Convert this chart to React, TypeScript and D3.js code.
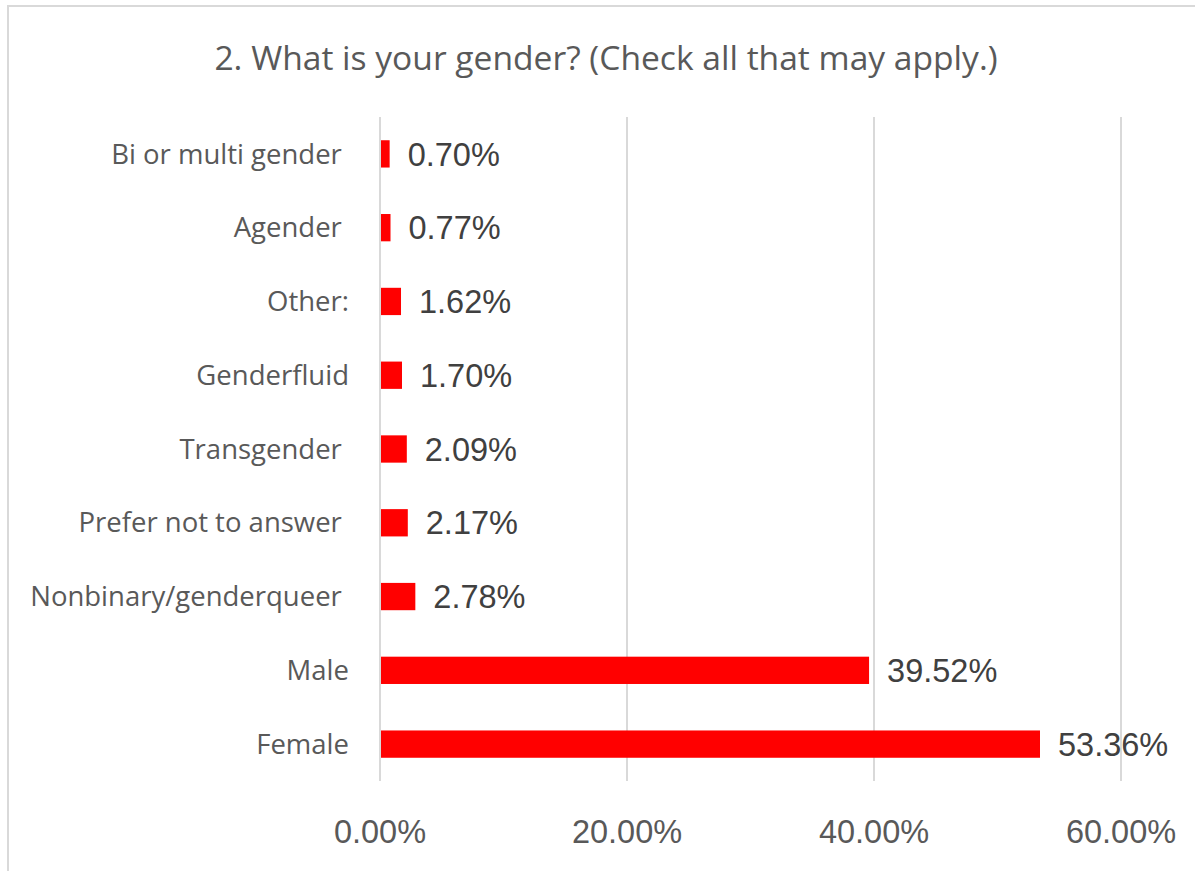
import React from "react";
import * as d3 from "d3";

const categories = [
  "Bi or multi gender ",
  "Agender ",
  "Other:",
  "Genderfluid",
  "Transgender ",
  "Prefer not to answer ",
  "Nonbinary/genderqueer ",
  "Male",
  "Female",
];
const values = [0.007, 0.0077, 0.0162, 0.017, 0.0209, 0.0217, 0.0278, 0.3952, 0.5336];
const tickValues = [0, 0.2, 0.4, 0.6];
const title = "2. What is your gender? (Check all that may apply.)";

export default function App() {
  const W = 1195;
  const H = 871;
  const x = d3.scaleLinear().domain([0, 0.6]).range([380, 1121]);
  const y = d3.scaleBand<string>().domain(categories).range([117, 781]).paddingInner(0.63).paddingOuter(0.315);
  const fmt = (v: number) => (v * 100).toFixed(2) + "%";
  const labelFont = "'Open Sans', 'Noto Sans', sans-serif";
  const numFont = "'Liberation Sans', Arial, sans-serif";
  return (
    <svg width={W} height={H} style={{ position: "absolute", left: 0, top: 0, background: "#fff" }}>
      <rect x={8} y={6} width={1250} height={950} fill="#fff" stroke="#d9d9d9" strokeWidth={2} />
      <text x={606} y={70} textAnchor="middle" fontFamily={labelFont} fontSize={33.6} fill="#595959">
        {title}
      </text>
      {tickValues.map((t) => (
        <line key={"g" + t} x1={x(t)} x2={x(t)} y1={117} y2={781} stroke="#d9d9d9" strokeWidth={2} />
      ))}
      {categories.map((c, i) => (
        <g key={c}>
          <rect x={x(0) + 1} y={y(c)!} width={x(values[i]) - x(0)} height={y.bandwidth()} fill="#ff0000" />
          <text
            x={349}
            y={y(c)! + y.bandwidth() / 2}
            dy="0.35em"
            textAnchor="end"
            fontFamily={labelFont}
            fontSize={27.5}
            fill="#595959"
            style={{ whiteSpace: "pre" }}
          >
            {c}
          </text>
          <text
            x={x(values[i]) + 19}
            y={y(c)! + y.bandwidth() / 2}
            dy="0.36em"
            fontFamily={numFont}
            fontSize={32.5}
            fill="#404040"
          >
            {fmt(values[i])}
          </text>
        </g>
      ))}
      {tickValues.map((t) => (
        <text key={"t" + t} x={x(t)} y={843} textAnchor="middle" fontFamily={numFont} fontSize={32.5} fill="#595959">
          {fmt(t)}
        </text>
      ))}
    </svg>
  );
}
